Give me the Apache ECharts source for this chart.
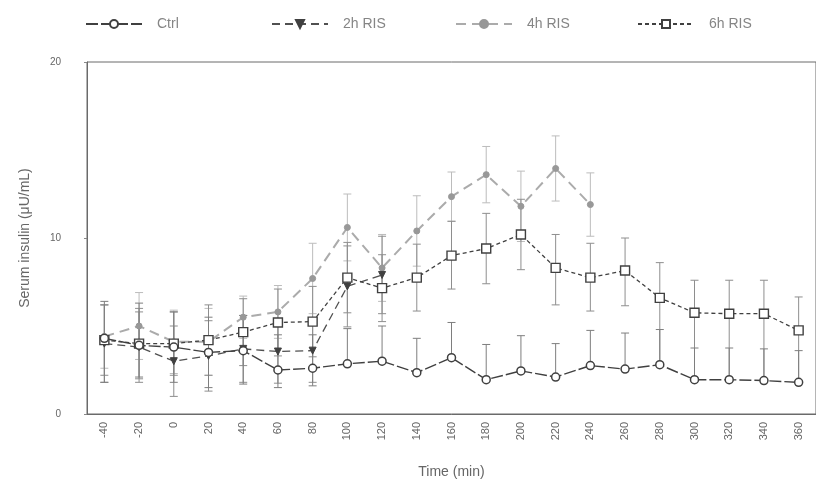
<!DOCTYPE html>
<html>
<head>
<meta charset="utf-8">
<script src="https://cdn.jsdelivr.net/npm/echarts@6/dist/echarts.min.js"></script>
<style>
  html, body { margin: 0; padding: 0; background: #fff; }
  #chart { width: 816px; height: 485px; }
</style>
</head>
<body>
<div id="chart"></div>
<script>
// Sampling times (min)
const times = ['-40','-20','0','20','40','60','80','100','120','140','160','180','200','220','240','260','280','300','320','340','360'];

// Serum insulin means (μU/mL)
const ctrl = [4.3, 3.9, 3.8, 3.5, 3.6, 2.5, 2.6, 2.85, 3.0, 2.35, 3.2, 1.95, 2.45, 2.1, 2.75, 2.55, 2.8, 1.95, 1.95, 1.9, 1.8];
const ris2h = [4.0, 3.8, 3.0, 3.3, 3.7, 3.55, 3.6, 7.25, 7.9];
const ris4h = [4.4, 5.0, 4.1, 4.1, 5.5, 5.8, 7.7, 10.6, 8.3, 10.4, 12.35, 13.6, 11.8, 13.95, 11.9];
const ris6h = [4.2, 4.0, 4.0, 4.2, 4.65, 5.2, 5.25, 7.75, 7.15, 7.75, 9.0, 9.4, 10.2, 8.3, 7.75, 8.15, 6.6, 5.75, 5.7, 5.7, 4.75];

// Error bar extents above / below each mean
const ctrlUp   = [2.1, 2.4, 2.0, 2.0, 2.0, 2.0, 1.9, 2.0, 2.0, 1.95, 2.0, 2.0, 2.0, 1.9, 2.0, 2.05, 2.0, 1.8, 1.8, 1.8, 1.8];
const ctrlDown = [2.5, 1.8, 2.0, 2.0, 1.9, 1.0, 1.0, 0, 0, 0, 0, 0, 0, 0, 0, 0, 0, 0, 0, 0, 0];
const ris2hErr = [2.2, 2.0, 2.0, 2.0, 1.9, 1.8, 1.8, 2.3, 2.2];
const ris4hErr = [1.8, 1.9, 1.8, 1.9, 1.2, 1.5, 2.0, 1.9, 1.9, 2.0, 1.4, 1.6, 2.0, 1.85, 1.8];
const ris6hUp   = [2.0, 2.0, 1.8, 2.0, 1.9, 1.9, 2.0, 2.0, 1.9, 1.9, 1.95, 2.0, 2.0, 1.9, 1.95, 1.85, 2.0, 1.85, 1.9, 1.9, 1.9];
const ris6hDown = [2.0, 2.0, 1.8, 2.0, 1.9, 1.9, 2.0, 2.0, 1.9, 1.9, 1.9, 2.0, 2.0, 2.1, 1.9, 2.0, 3.8, 3.8, 3.8, 3.8, 2.9];

// Tick labels
const yTicks = [0, 10, 20];

const FONT = '"Liberation Sans", Arial, sans-serif';

function errData(mean, up, down) {
  return mean.map((v, i) => [i, v - down[i], v + up[i]]);
}

function errSeries(data, color, z) {
  return {
    type: 'custom',
    silent: true,
    z: z,
    data: data,
    encode: { x: 0, y: [1, 2] },
    renderItem: function (params, api) {
      const i = api.value(0);
      const lo = api.coord([i, api.value(1)]);
      const hi = api.coord([i, api.value(2)]);
      const half = 4;
      const style = { stroke: color, lineWidth: 1 };
      return {
        type: 'group',
        children: [
          { type: 'line', shape: { x1: hi[0], y1: hi[1], x2: lo[0], y2: lo[1] }, style: style },
          { type: 'line', shape: { x1: hi[0] - half, y1: hi[1], x2: hi[0] + half, y2: hi[1] }, style: style },
          { type: 'line', shape: { x1: lo[0] - half, y1: lo[1], x2: lo[0] + half, y2: lo[1] }, style: style }
        ]
      };
    }
  };
}

const legendText = { color: '#858585', fontSize: 14, fontFamily: FONT, padding: [0, 0, 0, 10] };
function legendAt(name, left) {
  return {
    data: [name],
    left: left,
    top: 12,
    itemWidth: 56,
    itemHeight: 10,
    textStyle: legendText
  };
}

const chart = echarts.init(document.getElementById('chart'), null, { renderer: 'canvas' });

chart.setOption({
  backgroundColor: '#ffffff',
  animation: false,
  legend: [
    legendAt('Ctrl', 80),
    legendAt('2h RIS', 266),
    legendAt('4h RIS', 450),
    legendAt('6h RIS', 632)
  ],
  grid: {
    left: 87, right: -10, top: 62, bottom: 71,
    show: true, borderColor: '#6a6a6a', borderWidth: 1
  },
  xAxis: {
    type: 'category',
    data: times,
    boundaryGap: true,
    name: 'Time (min)',
    nameLocation: 'middle',
    nameGap: 51,
    nameTextStyle: { color: '#666', fontSize: 14, fontFamily: FONT },
    axisLine: { lineStyle: { color: '#6a6a6a', width: 1 } },
    axisTick: { alignWithLabel: true, inside: true, length: 6, lineStyle: { color: '#888' } },
    axisLabel: { rotate: 90, color: '#666', fontSize: 11, fontFamily: FONT, margin: 8 },
    splitLine: { show: false }
  },
  yAxis: {
    type: 'value',
    min: 0, max: 20, interval: 10,
    name: 'Serum insulin (μU/mL)',
    nameLocation: 'middle',
    nameGap: 55,
    nameTextStyle: { color: '#666', fontSize: 14, fontFamily: FONT },
    axisLine: { show: true, lineStyle: { color: '#6a6a6a', width: 1 } },
    axisTick: { show: true, length: 3, lineStyle: { color: '#888' } },
    axisLabel: {
      color: '#666', fontSize: 10, fontFamily: FONT, margin: 26,
      formatter: v => (yTicks.indexOf(v) >= 0 ? String(v) : '')
    },
    splitLine: { show: false }
  },
  series: [
    errSeries(errData(ris4h, ris4hErr, ris4hErr), '#bcbcbc', 1),
    errSeries(errData(ris6h, ris6hUp, ris6hDown), '#8e8e8e', 1),
    errSeries(errData(ris2h, ris2hErr, ris2hErr), '#8e8e8e', 1),
    errSeries(errData(ctrl, ctrlUp, ctrlDown), '#7e7e7e', 1),
    {
      name: 'Ctrl',
      type: 'line',
      data: ctrl,
      z: 5,
      symbol: 'circle',
      symbolSize: 8,
      lineStyle: { color: '#404040', width: 1.4, type: [12, 3] },
      itemStyle: { color: '#ffffff', borderColor: '#404040', borderWidth: 1.5 }
    },
    {
      name: '2h RIS',
      type: 'line',
      data: ris2h,
      z: 4,
      symbol: 'triangle',
      symbolRotate: 180,
      symbolSize: 7,
      lineStyle: { color: '#505050', width: 1.3, type: [8, 5] },
      itemStyle: { color: '#404040', borderColor: '#404040', borderWidth: 1 }
    },
    {
      name: '4h RIS',
      type: 'line',
      data: ris4h,
      z: 3,
      symbol: 'circle',
      symbolSize: 6,
      lineStyle: { color: '#ababab', width: 2, type: [10, 6] },
      itemStyle: { color: '#989898', borderColor: '#989898', borderWidth: 1 }
    },
    {
      name: '6h RIS',
      type: 'line',
      data: ris6h,
      z: 4,
      symbol: 'rect',
      symbolSize: 9,
      lineStyle: { color: '#404040', width: 1.3, type: [4, 3] },
      itemStyle: { color: '#ffffff', borderColor: '#404040', borderWidth: 1.4 }
    }
  ]
});
</script>
</body>
</html>
